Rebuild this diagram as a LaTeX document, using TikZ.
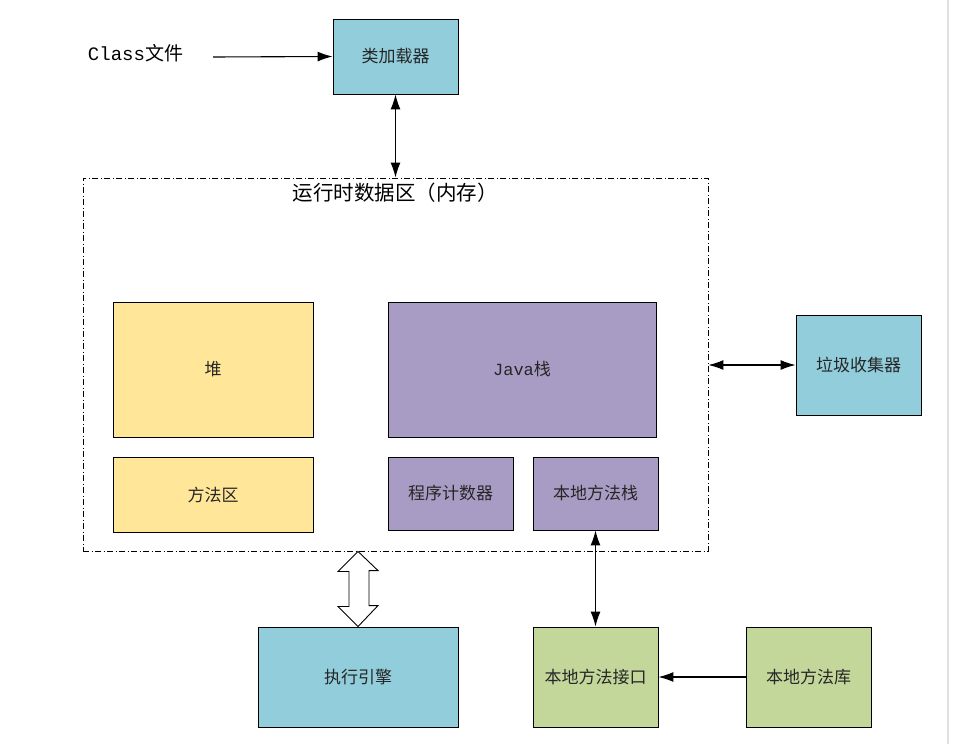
\documentclass[tikz,border=0pt]{standalone}
\usepackage{fontspec}
\newfontfamily\cjk{Noto Sans CJK SC}
\setmonofont{Liberation Mono}
\usetikzlibrary{arrows.meta}

\definecolor{boxblue}{HTML}{92CDDC}
\definecolor{boxyellow}{HTML}{FFE699}
\definecolor{boxpurple}{HTML}{A99CC4}
\definecolor{boxgreen}{HTML}{C4D79B}

\begin{document}
\begin{tikzpicture}[x=1pt,y=-1pt,
  font=\cjk\fontsize{17}{20}\selectfont,
  unit/.style={draw=black,line width=0.9pt,inner sep=0pt,align=center,text=black!85},
  arr/.style={line width=1.1pt,-{Latex[length=15pt,width=10pt]}},
  biarr/.style={line width=1.1pt,{Latex[length=15pt,width=10pt]}-{Latex[length=15pt,width=10pt]}},
  hollow/.style={draw=black,fill=white,line width=0.9pt,line join=miter}]
\useasboundingbox (0,0) rectangle (953,744);

% Faint page edge
\draw[black!12,line width=1.5pt] (948,0) -- (948,744);

% Class file and loader
\node[font=\cjk\fontsize{19}{22}\selectfont] (cls) at (135.5,53) {\ttfamily Class\cjk 文件};
\coordinate (src) at (213,57);
\node[unit,fill=boxblue,minimum width=125pt,minimum height=75pt] (loader) at (395.5,56.5) {类加载器};

% Runtime data area
\node[draw=black,line width=0.9pt,dash pattern=on 6pt off 2.5pt on 1pt off 2.5pt,
  minimum width=625pt,minimum height=373pt,inner sep=0pt] (mem) at (395.5,364.5) {};
\node[font=\cjk\fontsize{20.5}{24}\selectfont] (memlbl) at (395,193) {运行时数据区（内存）};

\node[unit,fill=boxyellow,minimum width=200pt,minimum height=135pt] (heap) at (213,369.5) {堆};
\node[unit,fill=boxyellow,minimum width=200pt,minimum height=75pt] (method) at (213,494.5) {方法区};
\node[unit,fill=boxpurple,minimum width=268pt,minimum height=135pt] (jstack) at (522,369.5) {\ttfamily Java\cjk 栈};
\node[unit,fill=boxpurple,minimum width=125pt,minimum height=73pt] (pc) at (450.5,493.5) {程序计数器};
\node[unit,fill=boxpurple,minimum width=125pt,minimum height=73pt] (nstack) at (595.5,493.5) {本地方法栈};

% Outside units
\node[unit,fill=boxblue,minimum width=125pt,minimum height=100pt] (gc) at (858.5,365) {垃圾收集器};
\node[unit,fill=boxblue,minimum width=200pt,minimum height=100pt] (exec) at (358,677) {执行引擎};
\node[unit,fill=boxgreen,minimum width=125pt,minimum height=100pt] (nif) at (595.5,677) {本地方法接口};
\node[unit,fill=boxgreen,minimum width=125pt,minimum height=100pt] (nlib) at (808.5,677) {本地方法库};

% Connectors
\draw[arr] (src) -- (loader.west);
\draw[biarr] (loader.south) -- (loader.south |- mem.north);
\draw[biarr] (mem.east |- gc.west) -- (gc.west);
\draw[biarr] (nstack.south) -- (nif.north);
\draw[arr] (nlib.west) -- (nif.east);

% Hollow arrow to engine
\draw[hollow] (exec.north |- mem.south) -- ++(-20,20) -- ++(11,0) -- ++(0,35)
  -- ++(-11,0) -- (exec.north) -- ++(20,-21) -- ++(-9,0) -- ++(0,-35)
  -- ++(9,0) -- cycle;
\end{tikzpicture}
\end{document}
